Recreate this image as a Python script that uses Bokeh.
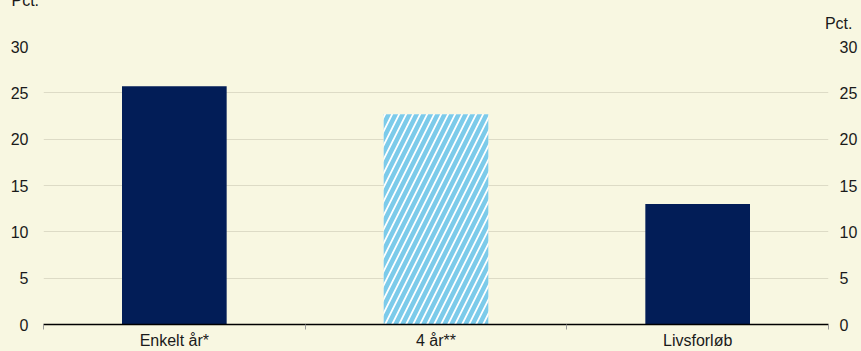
from bokeh.plotting import figure
from bokeh.models import ColumnDataSource, Range1d, LinearAxis, FixedTicker, Title
from bokeh.embed import file_html
from bokeh.resources import INLINE

categories = ["Enkelt år*", "4 år**", "Livsforløb"]
values = [25.7, 22.7, 13.0]
bar_fills = ["#021d57", "#ffffff", "#021d57"]
bar_hatches = [" ", "/", " "]
y_ticks = [0, 5, 10, 15, 20, 25, 30]
unit_label = "Pct."

BG = "#f8f7e1"
FONT = "Liberation Sans"
TXT = "#1a1a1a"
GRID = "#dddbc6"

n = len(categories)
centers = [2 * i + 1 for i in range(n)]      # slot centres on a 0..2n scale
bounds = [2 * i for i in range(n + 1)]       # slot boundaries

src = ColumnDataSource(dict(x=centers, cat=categories, val=values, fill=bar_fills, hatch=bar_hatches))

p = figure(width=861, height=351, x_range=Range1d(0, 2 * n), y_range=Range1d(0, 30),
           output_backend="svg", toolbar_location=None,
           x_axis_location=None, y_axis_location=None,
           min_border_left=43, min_border_right=33, min_border_top=40, min_border_bottom=25,
           background_fill_color=BG, border_fill_color=BG, outline_line_color=None)

p.title.text = unit_label
p.title.align = "left"
p.title.offset = -32
p.title.vertical_align = "top"
p.title.standoff = -18
p.title.text_font = FONT
p.title.text_font_size = "16px"
p.title.text_font_style = "normal"
p.title.text_color = TXT

p.add_layout(Title(text=unit_label, align="right", offset=-24, vertical_align="top", standoff=26,
                   text_font=FONT, text_font_size="16px", text_font_style="normal",
                   text_color=TXT), "above")

p.xgrid.visible = False
p.ygrid.ticker = FixedTicker(ticks=y_ticks)
p.ygrid.grid_line_color = GRID
p.ygrid.grid_line_width = 1

for side in ["left", "right"]:
    ax = LinearAxis(ticker=FixedTicker(ticks=y_ticks), axis_line_color=None,
                    major_tick_line_color=None, minor_tick_line_color=None,
                    major_tick_in=0, major_tick_out=0,
                    major_label_text_font=FONT, major_label_text_font_size="16px",
                    major_label_text_color=TXT,
                    major_label_standoff=15 if side == "left" else 11)
    p.add_layout(ax, side)

xax = LinearAxis(ticker=FixedTicker(ticks=centers, minor_ticks=bounds),
                 major_label_overrides={c: cat for c, cat in zip(centers, categories)},
                 major_tick_in=0, major_tick_out=0, major_tick_line_color=None,
                 minor_tick_in=0, minor_tick_out=5, minor_tick_line_color="#9a9a9a",
                 axis_line_color="black", axis_line_width=1.5,
                 major_label_text_font=FONT, major_label_text_font_size="16px",
                 major_label_text_color=TXT, major_label_standoff=2)
p.add_layout(xax, "below")

p.vbar(x="x", top="val", width=0.8, source=src, fill_color="fill",
       hatch_pattern="hatch", hatch_color="#7ccbea", hatch_scale=14, hatch_weight=4.5,
       line_color=None)

html = file_html(p, INLINE)
html = html.replace("</head>", "<style>html,body{background:%s;}</style></head>" % BG, 1)
open("out.html", "w").write(html)
